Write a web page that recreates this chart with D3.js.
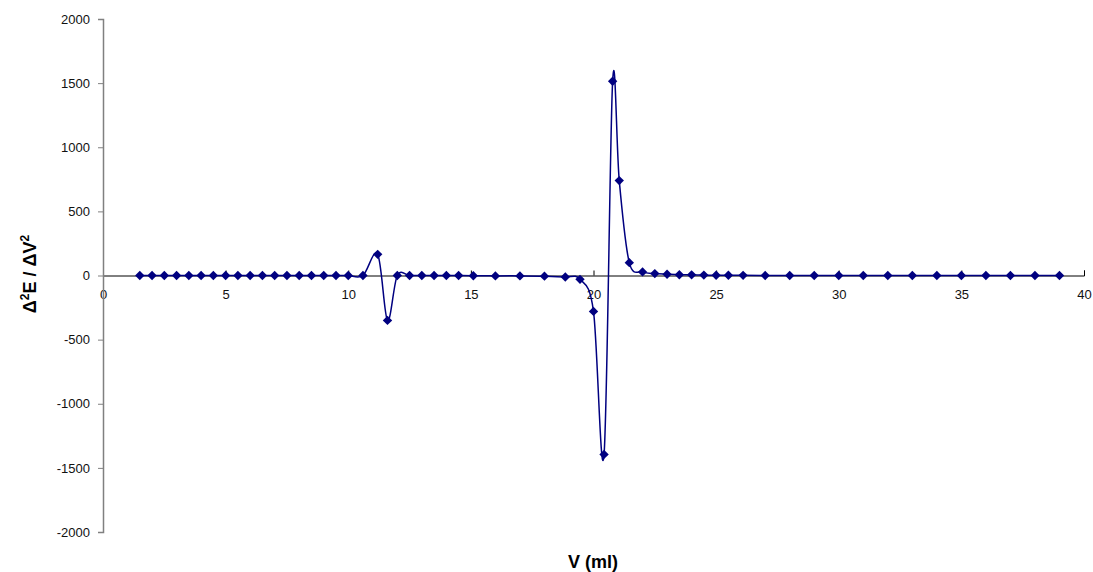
<!DOCTYPE html>
<html>
<head>
<meta charset="UTF-8">
<script src="https://d3js.org/d3.v7.min.js"></script>
<style>
  body { margin: 0; background: #fff; }
  svg { display: block; font-family: "Liberation Sans", Arial, sans-serif; }
  .tick text { font-size: 13px; fill: #111; }
  .title { font-size: 18px; font-weight: bold; fill: #000; }
</style>
</head>
<body>
<div id="chart"></div>
<script>
// volume (ml)
const volume = [1.5, 2, 2.5, 3, 3.5, 4, 4.5, 5, 5.5, 6, 6.5, 7, 7.5, 8, 8.5, 9, 9.5, 10,
  10.6, 11.2, 11.6, 12, 12.5, 13, 13.5, 14, 14.5, 15.1, 16, 17, 18, 18.85, 19.45,
  20.0, 20.43, 20.78, 21.05, 21.46, 22, 22.5, 23, 23.5, 24, 24.5, 25, 25.5, 26.1,
  27, 28, 29, 30, 31, 32, 33, 34, 35, 36, 37, 38, 39];
// second derivative d2E/dV2
const d2E = [0, 0, 0, 0, 0, 0, 0, 0, 0, 0, 0, 0, 0, 0, 0, 0, 0, 0,
  0, 165, -350, 0, 0, 0, 0, 0, 0, -2, -3, -3, -5, -12, -30,
  -280, -1395, 1515, 740, 100, 28, 15, 10, 6, 5, 3, 2, 2, 1,
  0, 0, 0, 0, 0, 0, 0, 0, 0, 0, 0, 0, 0];
const xTicks = [0, 5, 10, 15, 20, 25, 30, 35, 40];
const yTicks = [-2000, -1500, -1000, -500, 0, 500, 1000, 1500, 2000];

const W = 1093, H = 572;
const data = volume.map((v, i) => ({ v: v, y: d2E[i] }));

const svg = d3.select("#chart").append("svg")
  .attr("width", W).attr("height", H);

const x = d3.scaleLinear().domain([0, 40]).range([103, 1084]);
const y = d3.scaleLinear().domain([-2000, 2000]).range([532, 19]);

// x axis sits on y = 0, ticks point up
const xAxis = svg.append("g")
  .attr("transform", `translate(0,${y(0)})`)
  .call(d3.axisBottom(x).tickValues(xTicks).tickFormat(d => String(d))
    .tickSizeInner(-5).tickSizeOuter(-5).tickPadding(14));
xAxis.select(".domain").attr("stroke", "#000");
xAxis.selectAll(".tick line").attr("stroke", "#000");

// y axis
const yAxis = svg.append("g")
  .attr("transform", `translate(${x(0)},0)`)
  .call(d3.axisLeft(y).tickValues(yTicks).tickFormat(d => String(d))
    .tickSize(5).tickPadding(8));
yAxis.select(".domain").attr("stroke", "#808080").attr("stroke-width", 1.5);
yAxis.selectAll(".tick line").attr("stroke", "#808080");

// smoothed line
const line = d3.line()
  .x(d => x(d.v))
  .y(d => y(d.y))
  .curve(d3.curveCatmullRom.alpha(0));

svg.append("path")
  .datum(data)
  .attr("fill", "none")
  .attr("stroke", "#000080")
  .attr("stroke-width", 1.5)
  .attr("d", line);

// diamond markers
svg.append("g").selectAll("path")
  .data(data)
  .join("path")
  .attr("d", d3.symbol(d3.symbolSquare, 44))
  .attr("transform", d => `translate(${x(d.v)},${y(d.y)}) rotate(45)`)
  .attr("fill", "#000080");

// axis titles
svg.append("text")
  .attr("class", "title")
  .attr("x", 593).attr("y", 568)
  .attr("text-anchor", "middle")
  .text("V (ml)");

const yt = svg.append("text")
  .attr("class", "title")
  .attr("transform", "translate(36,274) rotate(-90)")
  .attr("text-anchor", "middle");
yt.append("tspan").text("Δ");
yt.append("tspan").attr("font-size", "12px").attr("dy", "-7").text("2");
yt.append("tspan").attr("dy", "7").text("E / ΔV");
yt.append("tspan").attr("font-size", "12px").attr("dy", "-7").text("2");
</script>
</body>
</html>
